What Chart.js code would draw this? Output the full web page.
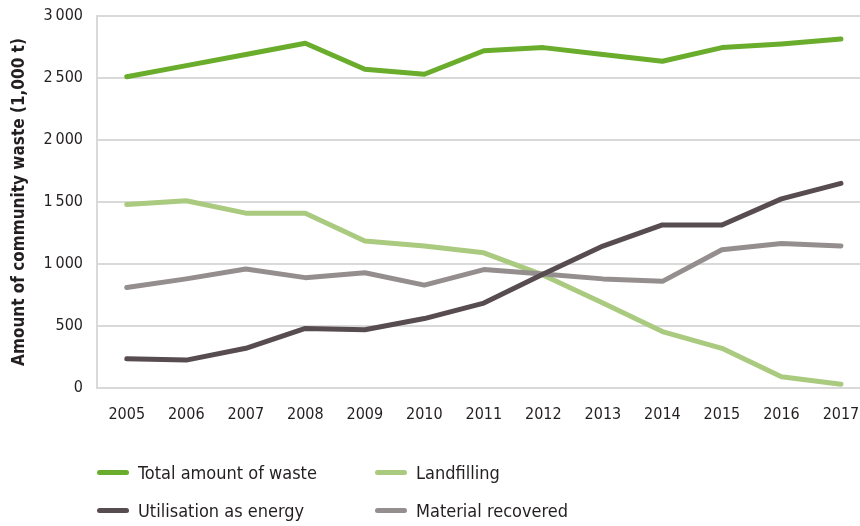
<!DOCTYPE html>
<html>
<head>
<meta charset="utf-8">
<script src="https://cdn.jsdelivr.net/npm/chart.js@4/dist/chart.umd.min.js"></script>
<style>
  html, body { margin: 0; padding: 0; background: #fff; }
  #wrap { position: relative; width: 860px; height: 526px; }
  #chart { position: absolute; left: 0; top: 0; }
  #legend {
    position: absolute; left: 97px; top: 456px; width: 760px;
    display: grid; grid-template-columns: 278px 300px; row-gap: 6px;
    font-family: 'DejaVu Sans Condensed', 'DejaVu Sans', sans-serif;
    font-size: 18px; color: #231f20;
  }
  .item { display: flex; align-items: center; height: 32px; white-space: nowrap; }
  .swatch { width: 32px; height: 5px; border-radius: 3px; margin-right: 9px; flex: none; }
</style>
</head>
<body>
<div id="wrap">
  <canvas id="chart" width="860" height="526"></canvas>
  <div id="legend"></div>
</div>
<script>
// Community waste, 1,000 t
const years = [2005, 2006, 2007, 2008, 2009, 2010, 2011, 2012, 2013, 2014, 2015, 2016, 2017];
const totalWaste       = [2510, 2600, 2690, 2780, 2570, 2530, 2720, 2745, 2690, 2635, 2745, 2775, 2815];
const landfilling      = [1480, 1510, 1410, 1410, 1185, 1145, 1090, 910, 685, 455, 320, 90, 30];
const energyUse        = [235, 225, 320, 480, 470, 560, 685, 920, 1145, 1315, 1315, 1525, 1650];
const materialRecovery = [810, 880, 960, 890, 930, 830, 955, 920, 880, 860, 1115, 1165, 1145];
const yTicks = [0, 500, 1000, 1500, 2000, 2500, 3000];

const seriesNames = ['Total amount of waste', 'Landfilling', 'Utilisation as energy', 'Material recovered'];
const seriesColors = ['#6aac2b', '#a9ca7f', '#574c4f', '#958e8e'];
const seriesValues = [totalWaste, landfilling, energyUse, materialRecovery];
const drawOrder = [3, 2, 0, 1];

const FONT = "'DejaVu Sans Condensed', 'DejaVu Sans', sans-serif";
const TEXT = '#231f20';
const GRID = '#d9d9d9';

const datasets = seriesValues.map((vals, i) => ({
  label: seriesNames[i],
  data: years.map((y, j) => ({ x: y, y: vals[j] })),
  borderColor: seriesColors[i],
  backgroundColor: seriesColors[i],
  borderWidth: 5,
  borderCapStyle: 'round',
  borderJoinStyle: 'round',
  pointRadius: 0,
  tension: 0,
  order: drawOrder[i]
}));

new Chart(document.getElementById('chart'), {
  type: 'line',
  data: { datasets },
  options: {
    responsive: false,
    animation: false,
    clip: false,
    layout: { padding: { top: 16, right: 0, bottom: 100, left: 0 } },
    plugins: { legend: { display: false }, tooltip: { enabled: false } },
    scales: {
      x: {
        type: 'linear',
        min: 2004.5,
        max: 2017.32,
        afterBuildTicks: s => { s.ticks = years.map(v => ({ value: v })); },
        afterFit: s => { s.height = 38; s.paddingLeft = 0; s.paddingRight = 0; },
        ticks: {
          callback: v => String(v),
          font: { family: FONT, size: 16 },
          color: TEXT,
          padding: 17,
          maxRotation: 0,
          autoSkip: false
        },
        grid: { display: false, drawTicks: false },
        border: { display: false }
      },
      y: {
        min: 0,
        max: 3000,
        afterBuildTicks: s => { s.ticks = yTicks.map(v => ({ value: v })); },
        afterFit: s => { s.width = 97; s.paddingTop = 0; s.paddingBottom = 0; },
        ticks: {
          callback: v => v >= 1000 ? Math.floor(v / 1000) + '\u2009' + String(v % 1000).padStart(3, '0') : String(v),
          font: { family: FONT, size: 16 },
          color: TEXT,
          padding: 14
        },
        grid: { color: GRID, lineWidth: 2, drawTicks: false },
        border: { display: true, color: GRID, width: 2 },
        title: {
          display: true,
          text: 'Amount of community waste (1,000 t)',
          font: { family: FONT, size: 17, weight: 'bold' },
          color: TEXT,
          padding: { top: 9, bottom: 0 }
        }
      }
    }
  }
});

// Legend below the plot, two columns
const legend = document.getElementById('legend');
seriesNames.forEach((name, i) => {
  const item = document.createElement('div');
  item.className = 'item';
  const sw = document.createElement('span');
  sw.className = 'swatch';
  sw.style.background = seriesColors[i];
  const txt = document.createElement('span');
  txt.textContent = name;
  item.appendChild(sw);
  item.appendChild(txt);
  legend.appendChild(item);
});
</script>
</body>
</html>
